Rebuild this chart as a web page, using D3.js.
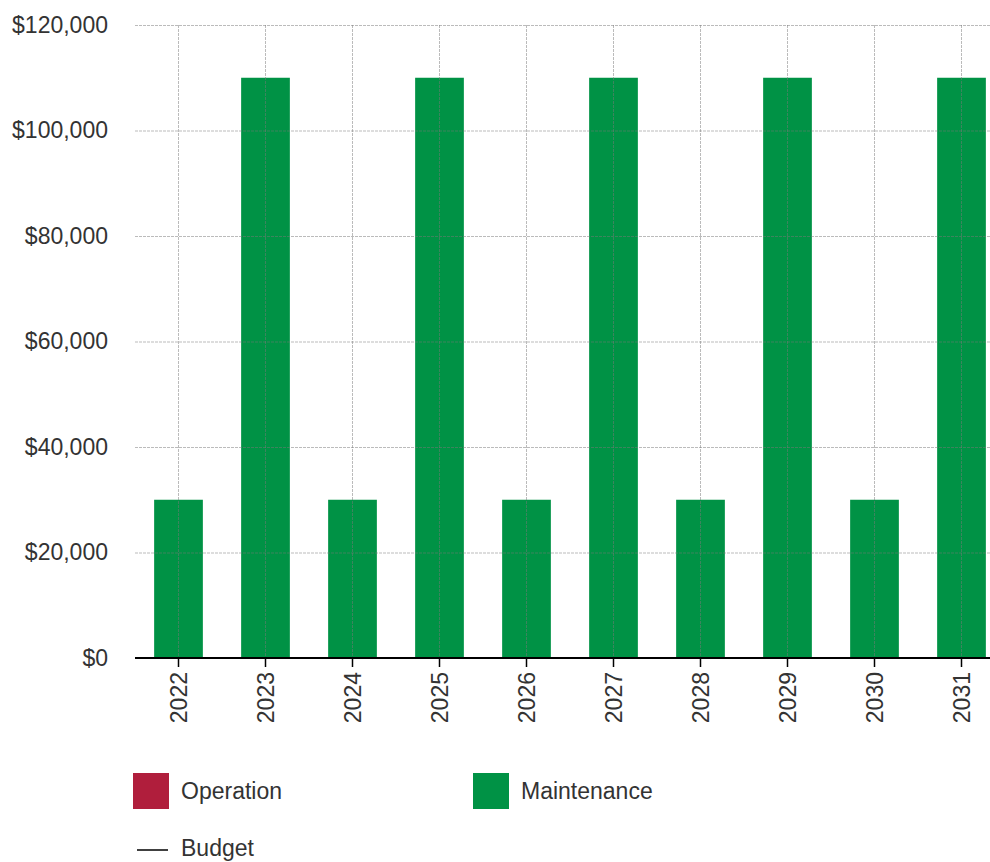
<!DOCTYPE html>
<meta http-equiv="content-type" content="text/html; charset=utf-8">
<style>
body { margin:0; background:#fff; }
text { font-family: "Liberation Sans", Arial, sans-serif; fill:#333; }
.grid line { stroke:#777; stroke-opacity:0.5; stroke-dasharray:3,1; }
.grid .domain { display:none; }
</style>
<body>
<div id="chart"></div>
<script src="https://d3js.org/d3.v7.min.js"></script>
<script>
var years = ["2022","2023","2024","2025","2026","2027","2028","2029","2030","2031"];
var operation = [0,0,0,0,0,0,0,0,0,0];
var maintenance = [30000,110000,30000,110000,30000,110000,30000,110000,30000,110000];
var budget = [0,0,0,0,0,0,0,0,0,0];
var yTicks = [0,20000,40000,60000,80000,100000,120000];

var width = 990, height = 862;
var svg = d3.select("#chart").append("svg")
    .attr("width", width)
    .attr("height", height);

var x = d3.scaleBand()
    .domain(years)
    .range([135, 1005])
    .paddingInner(0.44)
    .paddingOuter(0.22);

var y = d3.scaleLinear()
    .domain([0, 120000])
    .range([658, 25]);

var fmt = d3.format("$,");

// bars (operation stacked under maintenance)
var stackData = years.map(function(d, i) { return {year:d, op:operation[i], mt:maintenance[i]}; });

svg.append("g").selectAll("rect.op")
  .data(stackData)
  .enter().append("rect")
    .attr("class","op")
    .attr("x", function(d) { return x(d.year); })
    .attr("width", x.bandwidth())
    .attr("y", function(d) { return y(d.op); })
    .attr("height", function(d) { return y(0) - y(d.op); })
    .attr("fill", "#b01e3c");

svg.append("g").selectAll("rect.mt")
  .data(stackData)
  .enter().append("rect")
    .attr("class","mt")
    .attr("x", function(d) { return x(d.year); })
    .attr("width", x.bandwidth())
    .attr("y", function(d) { return y(d.op + d.mt); })
    .attr("height", function(d) { return y(d.op) - y(d.op + d.mt); })
    .attr("fill", "#009245");

// grid on top
svg.append("g")
  .attr("class","grid")
  .attr("transform","translate(135,0)")
  .call(d3.axisLeft(y).tickValues(yTicks).tickSize(-870).tickFormat(""));

svg.append("g")
  .attr("class","grid")
  .attr("transform","translate(0,25)")
  .call(d3.axisBottom(x).tickSize(633).tickFormat(""));

// budget line
var line = d3.line()
    .x(function(d, i) { return x(years[i]) + x.bandwidth()/2; })
    .y(function(d) { return y(d); });
svg.append("path")
  .datum(budget)
  .attr("d", line)
  .attr("fill","none")
  .attr("stroke","#333")
  .attr("stroke-width",1);

// y axis labels
var ya = svg.append("g")
  .attr("transform","translate(135,0)")
  .call(d3.axisLeft(y).tickValues(yTicks).tickSize(0).tickPadding(27).tickFormat(fmt));
ya.select(".domain").remove();
ya.selectAll("text").attr("font-size", 23).attr("font-family", null).attr("fill","#333");

// x axis
var xa = svg.append("g")
  .attr("transform","translate(0,658)")
  .call(d3.axisBottom(x).tickSize(9).tickSizeOuter(0));
xa.select(".domain").attr("stroke","#000").attr("stroke-width",2).attr("d","M135,0H1005");
xa.selectAll(".tick line").attr("stroke","#000").attr("stroke-width",1.5);
xa.selectAll("text")
  .attr("font-size", 23).attr("font-family", null).attr("fill","#333")
  .attr("transform","rotate(-90)")
  .attr("text-anchor","end")
  .attr("x",-14).attr("y",0).attr("dy","0.35em");

// legend
var legend = [
  {name:"Operation", color:"#b01e3c", x:133, y:773},
  {name:"Maintenance", color:"#009245", x:473, y:773}
];
var lg = svg.append("g");
lg.selectAll("rect")
  .data(legend)
  .enter().append("rect")
    .attr("x", function(d) { return d.x; })
    .attr("y", function(d) { return d.y; })
    .attr("width", 36).attr("height", 36)
    .attr("fill", function(d) { return d.color; });
lg.selectAll("text.lbl")
  .data(legend)
  .enter().append("text")
    .attr("x", function(d) { return d.x + 48; })
    .attr("y", function(d) { return d.y + 26; })
    .attr("font-size", 23)
    .text(function(d) { return d.name; });

lg.append("line")
  .attr("x1",137).attr("x2",168).attr("y1",850).attr("y2",850)
  .attr("stroke","#000").attr("stroke-width",1.5);
lg.append("text")
  .attr("x",181).attr("y",856)
  .attr("font-size",23)
  .text("Budget");
</script>
</body>
</html>
